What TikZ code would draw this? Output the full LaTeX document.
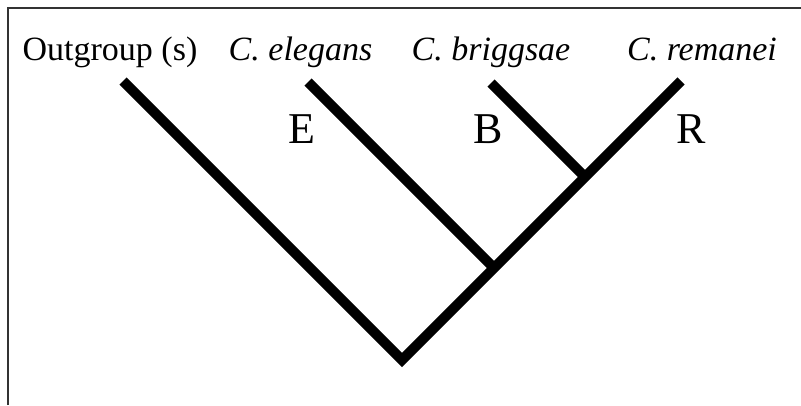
\documentclass[tikz,border=0pt]{standalone}
\usepackage{fontspec}
\setmainfont{Liberation Serif}
\begin{document}
\begin{tikzpicture}[x=1pt,y=-1pt,
  frameline/.style={draw=black!80,line width=2pt},
  branch/.style={draw=black,line width=10pt,line cap=butt,line join=miter},
  taxon/.style={anchor=base,inner sep=0pt,font=\fontsize{34}{40}\selectfont},
  cladelabel/.style={anchor=base,inner sep=0pt,font=\fontsize{44}{50}\selectfont}]
  \useasboundingbox (0,0) rectangle (801,405);
  % open frame (left and top edges)
  \draw[frameline] (7.5,405) -- (7.5,7.5) -- (801,7.5);

  % taxon names
  \node[taxon] (tout) at (110,60) {Outgroup (s)};
  \node[taxon] (tele) at (300.5,60) {\textit{C. elegans}};
  \node[taxon] (tbri) at (491,60) {\textit{C. briggsae}};
  \node[taxon] (trem) at (702,60) {\textit{C. remanei}};

  % clade letters
  \node[cladelabel] (le) at (301.5,143) {E};
  \node[cladelabel] (lb) at (488.5,143) {B};
  \node[cladelabel] (lr) at (691.5,143) {R};

  % tree tips and internal nodes
  \coordinate (out) at (123,81);
  \coordinate (ele) at (308,82);
  \coordinate (bri) at (491,83);
  \coordinate (rem) at (681,81);
  \coordinate (root) at (402,360);
  \coordinate (ner) at (494,268);
  \coordinate (nbr) at (585,177);

  % branches
  \draw[branch] (out) -- (root) -- (rem);
  \draw[branch] (ele) -- (ner);
  \draw[branch] (bri) -- (nbr);
\end{tikzpicture}
\end{document}
